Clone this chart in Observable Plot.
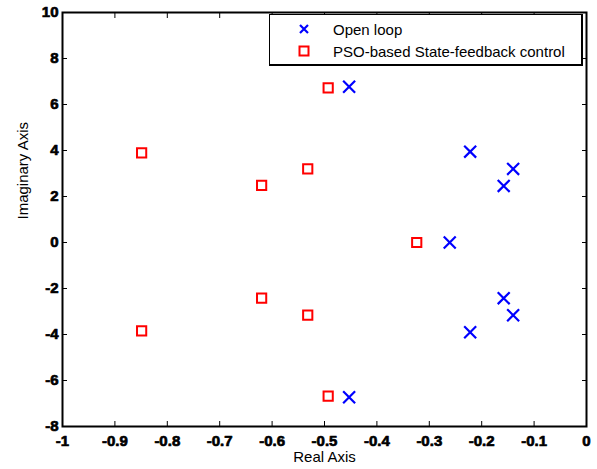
<!DOCTYPE html>
<html>
<head>
<meta charset="utf-8">
<script src="https://cdn.jsdelivr.net/npm/d3@7"></script>
<script src="https://cdn.jsdelivr.net/npm/@observablehq/plot@0.6"></script>
<style>
  body { margin: 0; background: #fff; }
  #wrap { position: relative; width: 597px; height: 469px; font-family: "Liberation Sans", Arial, Helvetica, sans-serif; }
  #legend { position: absolute; left: 269px; top: 14px; width: 314px; height: 52px; border: 1px solid #000; border-right-width: 2px; border-bottom-width: 2px; background: #fff; box-sizing: border-box; font-size: 15px; }
  .row { position: absolute; left: 0; height: 20px; display: flex; align-items: center; }
  .row svg { margin-left: 28px; }
  .row span { position: absolute; left: 63px; white-space: nowrap; }
</style>
</head>
<body>
<div id="wrap"></div>
<script>
// Open-loop poles (real, imaginary)
const openRe = [-0.453, -0.453, -0.222, -0.222, -0.140, -0.140, -0.158, -0.158, -0.261];
const openIm = [6.77, -6.73, 3.95, -3.90, 3.20, -3.16, 2.46, -2.42, 0];
// PSO-based state-feedback closed-loop poles
const psoRe = [-0.493, -0.493, -0.532, -0.532, -0.849, -0.849, -0.620, -0.620, -0.324];
const psoIm = [6.72, -6.68, 3.20, -3.16, 3.90, -3.84, 2.48, -2.42, 0];

const xTicks = [-1, -0.9, -0.8, -0.7, -0.6, -0.5, -0.4, -0.3, -0.2, -0.1, 0];
const xTickLabels = ["-1", "-0.9", "-0.8", "-0.7", "-0.6", "-0.5", "-0.4", "-0.3", "-0.2", "-0.1", "0"];
const yTicks = [-8, -6, -4, -2, 0, 2, 4, 6, 8, 10];
const yTickLabels = ["-8", "-6", "-4", "-2", "0", "2", "4", "6", "8", "10"];
const seriesNames = ["Open loop", "PSO-based State-feedback control"];
const xLabel = "Real Axis";
const yLabel = "Imaginary Axis";

const openData = openRe.map((r, i) => ({re: r, im: openIm[i]}));
const psoData = psoRe.map((r, i) => ({re: r, im: psoIm[i]}));

const font = "'Liberation Sans', Arial, Helvetica, sans-serif";

const chart = Plot.plot({
  width: 597,
  height: 469,
  marginLeft: 62,
  marginRight: 11,
  marginTop: 12,
  marginBottom: 43,
  style: {fontFamily: font, fontSize: "15px", color: "#000", background: "#fff"},
  x: {domain: [-1, 0]},
  y: {domain: [-8, 10]},
  marks: [
    Plot.axisX({ticks: xTicks, tickSize: -5, tickPadding: 14, tickFormat: (d, i) => xTickLabels[i], label: null, fontSize: 15, fontWeight: "bold", fontFamily: font}),
    Plot.axisX({anchor: "top", ticks: xTicks, tickSize: -5, tickFormat: () => "", label: null}),
    Plot.axisY({ticks: yTicks, tickSize: -5, tickPadding: 9, tickFormat: (d, i) => yTickLabels[i], label: null, fontSize: 15, fontWeight: "bold", fontFamily: font}),
    Plot.axisY({anchor: "right", ticks: yTicks, tickSize: -5, tickFormat: () => "", label: null}),
    Plot.frame({stroke: "#000", strokeWidth: 2}),
    Plot.dot(openData, {x: "re", y: "im", symbol: "times", r: 5.5, stroke: "#0000ff", strokeWidth: 2.2}),
    Plot.dot(psoData, {x: "re", y: "im", symbol: "square", r: 5.2, stroke: "#ff0000", strokeWidth: 2}),
    Plot.text([xLabel], {text: d => d, frameAnchor: "bottom", dy: 35, fontSize: 15}),
    Plot.text([yLabel], {text: d => d, frameAnchor: "left", dx: -39, rotate: -90, fontSize: 15})
  ]
});

// embolden tick labels with a thin outline (bold face may be unavailable)
d3.select(chart).selectAll('g[aria-label$="tick label"] text')
  .style("stroke", "#000")
  .style("stroke-width", "0.7px")
  .style("stroke-linejoin", "round");

const wrap = document.getElementById("wrap");
wrap.appendChild(chart);

const legend = document.createElement("div");
legend.id = "legend";
const symbols = [
  '<svg width="12" height="12" viewBox="-6 -6 12 12"><path d="M-4,-4L4,4M-4,4L4,-4" stroke="#0000ff" stroke-width="2.2"/></svg>',
  '<svg width="12" height="12" viewBox="-6 -6 12 12"><rect x="-4.5" y="-4.5" width="9" height="9" fill="none" stroke="#ff0000" stroke-width="2"/></svg>'
];
seriesNames.forEach((name, i) => {
  const row = document.createElement("div");
  row.className = "row";
  row.style.top = (4 + i * 22) + "px";
  row.innerHTML = symbols[i] + "<span>" + name + "</span>";
  legend.appendChild(row);
});
wrap.appendChild(legend);
</script>
</body>
</html>
